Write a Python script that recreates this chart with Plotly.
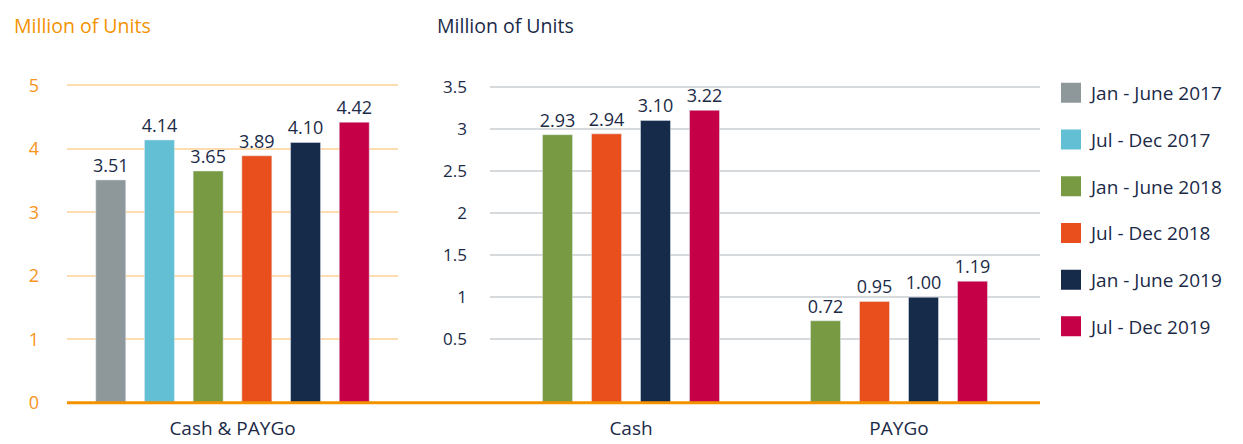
import plotly.graph_objects as go

# ---------------- data ----------------
SERIES = ["Jan - June 2017", "Jul - Dec 2017", "Jan - June 2018",
          "Jul - Dec 2018", "Jan - June 2019", "Jul - Dec 2019"]
COLORS = ["#8e979a", "#63c0d4", "#789a42", "#e94e1d", "#162a4a", "#c60047"]

TOTAL_CATEGORY = ["Cash & PAYGo"]
TOTAL_VALUES = [3.51, 4.14, 3.65, 3.89, 4.10, 4.42]

SPLIT_CATEGORIES = ["Cash", "PAYGo"]
SPLIT_SERIES = SERIES[2:]
SPLIT_COLORS = COLORS[2:]
CASH_VALUES = [2.93, 2.94, 3.10, 3.22]
PAYGO_VALUES = [0.72, 0.95, 1.00, 1.19]

LEFT_TICKS = [0, 1, 2, 3, 4, 5]
RIGHT_TICKS = [0.5, 1, 1.5, 2, 2.5, 3, 3.5]
Y_TITLE = "Million of Units"

# ---------------- geometry helpers ----------------
# the page body has an 8px margin, so the figure fills the window from (8, 8)
PAGE_W, PAGE_H, BODY = 1243, 444, 8
W, H = PAGE_W - BODY, PAGE_H - BODY
NAVY = "#1b2a47"
ORANGE = "#f39200"
FONT = "Open Sans"


def fx(p):
    """page pixel x -> paper fraction"""
    return (p - BODY) / W


def fy(p):
    """page pixel y -> paper fraction"""
    return 1 - (p - BODY) / H


PLOT_TOP, PLOT_BOTTOM = 80, 402.7
LEFT_X = (67, 398)
MID_X = (490, 1040)

left_px_per_unit = 63.47
left_range = [0, (PLOT_BOTTOM - PLOT_TOP) / left_px_per_unit]
mid_px_per_unit = 84.2
mid_zero_px = 381.4
mid_range = [-(PLOT_BOTTOM - mid_zero_px) / mid_px_per_unit,
             3.5 + (86.7 - PLOT_TOP) / mid_px_per_unit]
mid_base = mid_range[0]

left_cat_px = LEFT_X[1] - LEFT_X[0]
left_w = 30 / left_cat_px
left_pitch = 48.7 / left_cat_px
mid_cat_px = 268
mid_w = 30 / mid_cat_px
mid_pitch = 49 / mid_cat_px
mid_xrange = [-(631 - MID_X[0]) / mid_cat_px, 1 + (MID_X[1] - 899) / mid_cat_px]

fig = go.Figure()

# left panel: totals
n = len(SERIES)
for i, (name, color, val) in enumerate(zip(SERIES, COLORS, TOTAL_VALUES)):
    fig.add_trace(go.Bar(
        x=TOTAL_CATEGORY, y=[val], name=name, marker_color=color,
        width=left_w, offset=(i - (n - 1) / 2) * left_pitch - left_w / 2,
        text=[f"{val:.2f}"], textposition="outside", constraintext="none",
        textfont=dict(family=FONT, size=18, color=NAVY), cliponaxis=False,
        showlegend=False, xaxis="x", yaxis="y", hoverinfo="name+y",
    ))

# middle panel: cash / paygo split (bars drawn from the panel floor up to the value)
m = len(SPLIT_SERIES)
for j, (name, color) in enumerate(zip(SPLIT_SERIES, SPLIT_COLORS)):
    vals = [CASH_VALUES[j], PAYGO_VALUES[j]]
    fig.add_trace(go.Bar(
        x=SPLIT_CATEGORIES, y=[v - mid_base for v in vals],
        base=[mid_base] * len(vals),
        name=name, marker_color=color,
        width=mid_w, offset=(j - (m - 1) / 2) * mid_pitch - mid_w / 2,
        text=[f"{v:.2f}" for v in vals], textposition="outside",
        constraintext="none",
        textfont=dict(family=FONT, size=18, color=NAVY), cliponaxis=False,
        showlegend=False, xaxis="x2", yaxis="y2", hoverinfo="name+text",
    ))

# legend entries
for name, color in zip(SERIES, COLORS):
    fig.add_trace(go.Scatter(
        x=[None], y=[None], mode="markers", name=name, legendgroup=name,
        marker=dict(symbol="square", size=16, color=color,
                    line=dict(color=color, width=4)),
        xaxis="x", yaxis="y", showlegend=True,
    ))

fig.update_layout(
    width=W, height=H,
    margin=dict(l=0, r=0, t=0, b=0, autoexpand=False),
    paper_bgcolor="white", plot_bgcolor="white",
    barmode="overlay",
    font=dict(family=FONT, color=NAVY),
    xaxis=dict(domain=[fx(LEFT_X[0]), fx(LEFT_X[1])], range=[-0.5, 0.5],
               type="category", showgrid=False, zeroline=False, showline=False,
               ticks="", tickfont=dict(size=19, color=NAVY),
               ticklabelstandoff=12, fixedrange=True),
    yaxis=dict(domain=[fy(PLOT_BOTTOM), fy(PLOT_TOP)], range=left_range,
               tickvals=LEFT_TICKS, showgrid=True, gridcolor="#fddcb0",
               gridwidth=1.5, zeroline=False, showline=False, ticks="",
               tickfont=dict(size=18, color="#f7941d"),
               ticklabelstandoff=27, fixedrange=True),
    xaxis2=dict(domain=[fx(MID_X[0]), fx(MID_X[1])], range=mid_xrange,
                type="category", anchor="y2", showgrid=False, zeroline=False,
                showline=False, ticks="", tickfont=dict(size=19, color=NAVY),
                ticklabelstandoff=12, fixedrange=True),
    yaxis2=dict(domain=[fy(PLOT_BOTTOM), fy(PLOT_TOP)], range=mid_range,
                anchor="x2", tickvals=RIGHT_TICKS, showgrid=True,
                gridcolor="#d6dadd", gridwidth=1.5, zeroline=False,
                showline=False, ticks="", tickfont=dict(size=17, color=NAVY),
                ticklabelstandoff=22, fixedrange=True),
    legend=dict(x=fx(1051), y=fy(74), xanchor="left", yanchor="top",
                font=dict(size=19, color=NAVY, family=FONT),
                tracegroupgap=19, itemsizing="trace", bgcolor="rgba(0,0,0,0)"),
    shapes=[dict(type="line", xref="paper", yref="paper",
                 x0=fx(LEFT_X[0]), x1=fx(MID_X[1]),
                 y0=fy(PLOT_BOTTOM), y1=fy(PLOT_BOTTOM),
                 line=dict(color=ORANGE, width=3), layer="above")],
    annotations=[
        dict(text=Y_TITLE, xref="paper", yref="paper", x=fx(12), y=fy(25),
             xanchor="left", yanchor="middle", showarrow=False,
             font=dict(size=19.5, color=ORANGE, family=FONT)),
        dict(text=Y_TITLE, xref="paper", yref="paper", x=fx(435), y=fy(25),
             xanchor="left", yanchor="middle", showarrow=False,
             font=dict(size=19.5, color=NAVY, family=FONT)),
    ],
)

fig.write_html("out.html")
